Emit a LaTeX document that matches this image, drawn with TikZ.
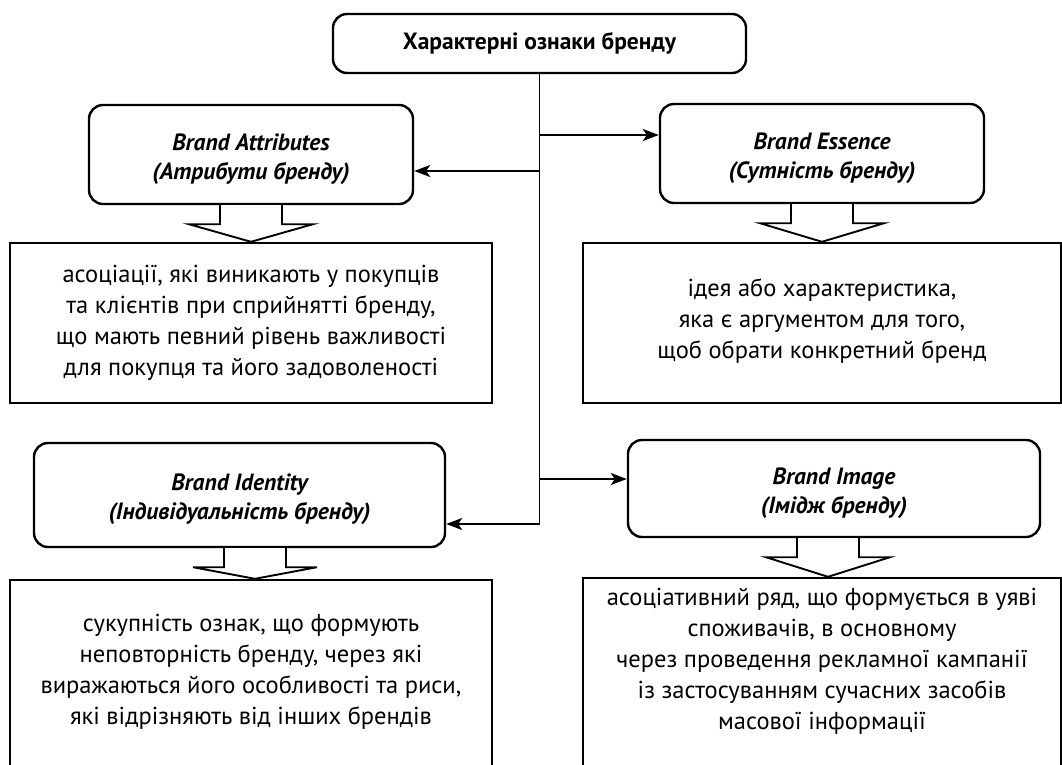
\documentclass[tikz,border=0pt]{standalone}
\usepackage{fontspec}
\setmainfont{PT Sans}
\usetikzlibrary{arrows.meta,calc}
\newcommand\blkarrow[3]{\draw[blk] ($(#1.south)+(#3-31,0)$) -- ++(0,19) -- ++(-31,0) -- ($(#2.north -| #1.south)+(#3,0)$) -- ($(#1.south)+(#3+62,19)$) -- ++(-31,0) -- ($(#1.south)+(#3+31,0)$);}
\begin{document}
\begin{tikzpicture}[x=1pt,y=-1pt,
  rbox/.style={draw, line width=2.4pt, rounded corners=14pt, inner sep=0pt},
  lab/.style={align=center, inner sep=0pt, yshift=-5pt, font=\fontsize{23.5}{29}\selectfont\bfseries\itshape},
  dbox/.style={draw, line width=2.4pt, align=center, inner sep=0pt, font=\fontsize{24.5}{31}\selectfont},
  dtext/.style={align=center, inner sep=0pt, font=\fontsize{24.5}{31}\selectfont},
  conn/.style={line width=1.8pt},
  arr/.style={conn,-{Stealth[length=16pt,width=12pt,inset=4pt]}},
  blk/.style={line width=1.9pt, fill=white, line join=miter}]
\useasboundingbox (0,0) rectangle (1062,765);
\fill[white] (0,0) rectangle (1062,765);
% headers
\node[rbox, minimum width=413pt, minimum height=59pt, font=\fontsize{23.5}{30}\selectfont\bfseries] (title) at (539.5,43.5) {Характерні ознаки бренду};
\node[rbox, minimum width=324pt, minimum height=99pt, label={[lab, name=attrl]center:Brand Attributes\\(Атрибути бренду)}] (attr) at (251,154.5) {};
\node[rbox, minimum width=324pt, minimum height=99pt, label={[lab, name=essl]center:Brand Essence\\(Сутність бренду)}] (ess) at (822,153.5) {};
\node[rbox, minimum width=411pt, minimum height=104pt, label={[lab, name=identl, yshift=1pt]center:Brand Identity\\(Індивідуальність бренду)}] (ident) at (239.5,495) {};
\node[rbox, minimum width=412pt, minimum height=97pt, label={[lab, name=imgl]center:Brand Image\\(Імідж бренду)}] (img) at (834,488.5) {};
% descriptions
\node[dbox, minimum width=482pt, minimum height=160pt] (attrd) at (251,323) {асоціації, які виникають у покупців\\та клієнтів при сприйнятті бренду,\\що мають певний рівень важливості\\для покупця та його задоволеності};
\node[dbox, minimum width=478pt, minimum height=160pt] (essd) at (822,323) {};
\node[dtext] (esst) at (822,321) {ідея або характеристика,\\яка є аргументом для того,\\щоб обрати конкретний бренд};
\node[dbox, minimum width=482pt, minimum height=200pt] (identd) at (251,680) {};
\node[dtext] (identt) at (251,672) {сукупність ознак, що формують\\неповторність бренду, через які\\виражаються його особливості та риси,\\які відрізняють від інших брендів};
\node[dbox, minimum width=478pt, minimum height=200pt] (imgd) at (822,678) {};
\node[dtext] (imgt) at (822,661) {асоціативний ряд, що формується в уяві\\споживачів, в основному\\через проведення рекламної кампанії\\із застосуванням сучасних засобів\\масової інформації};
% connectors
\coordinate (b1) at (539.5,135);
\coordinate (b2) at (539.5,171);
\coordinate (b3) at (539.5,479);
\coordinate (b4) at (539.5,524);
\draw[conn] (title.south) -- (b4);
\draw[arr] (b1) -- (b1 -| ess.west);
\draw[arr] (b2) -- (b2 -| attr.east);
\draw[arr] (b3) -- (b3 -| img.west);
\draw[arr] (b4) -- (b4 -| ident.east);
% block arrows
\blkarrow{attr}{attrd}{0}
\blkarrow{ess}{essd}{0}
\blkarrow{ident}{identd}{15.5}
\blkarrow{img}{imgd}{-6}
\end{tikzpicture}
\end{document}
